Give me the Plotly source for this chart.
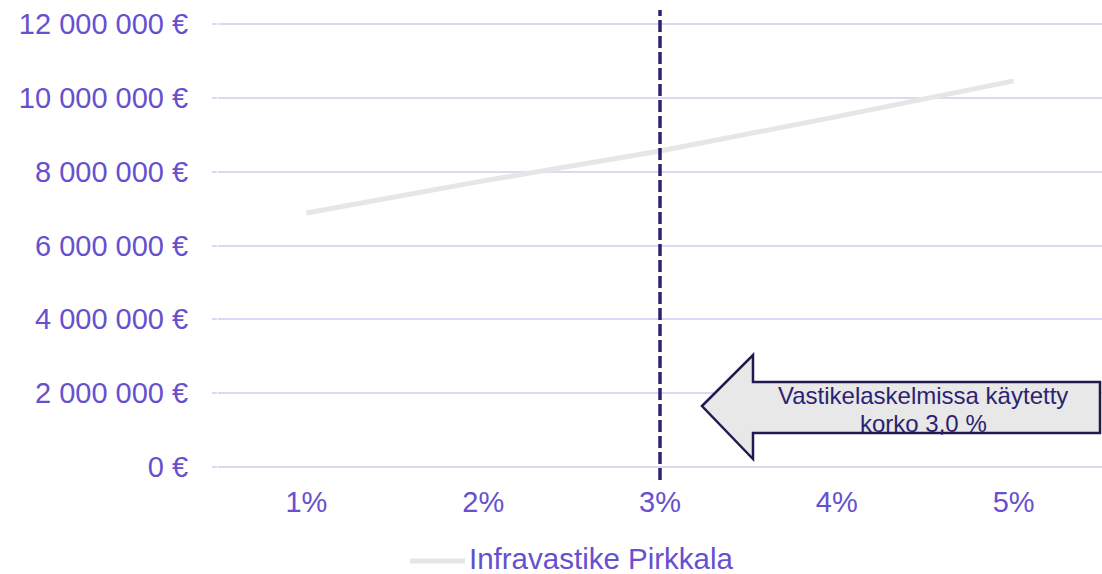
import plotly.graph_objects as go

# ---- data ----
categories = ["1%", "2%", "3%", "4%", "5%"]
infravastike = [6880000, 7750000, 8560000, 9490000, 10460000]
y_tickvals = [0, 2000000, 4000000, 6000000, 8000000, 10000000, 12000000]
y_ticktext = ["0 €", "2 000 000 €", "4 000 000 €", "6 000 000 €",
              "8 000 000 €", "10 000 000 €", "12 000 000 €"]
series_name = "Infravastike Pirkkala"
arrow_lines = ["Vastikelaskelmissa käytetty", "korko 3,0 %"]
used_rate = "3%"

# ---- layout geometry ----
W, H = 1102, 574
EDGE = 3  # px of padding so the edge gridlines are drawn
ML, MR, MT, MB = 218, 0, 24 - EDGE, 107 - EDGE
PW, PH = W - ML - MR, H - MT - MB
Y_MAX = y_tickvals[-1]
pad_val = (PH / (PH - 2 * EDGE) * Y_MAX - Y_MAX) / 2


def px(x):
    return (x - ML) / PW


def py(y):
    return (H - MB - y) / PH


FONT = "Liberation Sans, Arial, sans-serif"
TICK_COLOR = "#6750cf"
GRID = "#dcd7f6"
DARK = "#2c2370"

fig = go.Figure()
fig.add_trace(go.Scatter(
    x=categories, y=infravastike, mode="lines", name=series_name,
    line=dict(color="#e6e6e6", width=5), showlegend=False,
))

# dashed vertical line at used rate (category center in paper coords)
xi = categories.index(used_rate)
xc = (xi + 0.5) / len(categories)
fig.add_shape(type="line", xref="paper", yref="paper",
              x0=xc, x1=xc, y0=py(480), y1=py(10),
              line=dict(color=DARK, width=3.5, dash="12px,4px"))

# arrow callout
pts = [(702, 406), (753, 355), (753, 382), (1100, 382), (1100, 433),
       (753, 433), (753, 459)]
path = "M " + " L ".join(f"{px(a):.5f},{py(b):.5f}" for a, b in pts) + " Z"
fig.add_shape(type="path", xref="paper", yref="paper", path=path,
              fillcolor="#e8e8e8", line=dict(color="#221a4e", width=2.5))
for txt, yc in zip(arrow_lines, [395, 423]):
    fig.add_annotation(xref="paper", yref="paper", x=px(923), y=py(yc),
                       xanchor="center", yanchor="middle",
                       text=txt, showarrow=False, align="center",
                       font=dict(family=FONT, size=24, color=DARK))

# manual legend
fig.add_shape(type="line", xref="paper", yref="paper",
              x0=px(410), x1=px(465), y0=py(561), y1=py(561),
              line=dict(color="#e6e6e6", width=5))
fig.add_annotation(xref="paper", yref="paper", x=px(467), y=py(558),
                   xanchor="left", yanchor="middle", text=series_name,
                   showarrow=False,
                   font=dict(family=FONT, size=29.5, color=TICK_COLOR))

fig.update_layout(
    width=W, height=H,
    margin=dict(l=ML, r=MR, t=MT, b=MB, pad=0),
    plot_bgcolor="white", paper_bgcolor="white",
    font=dict(family=FONT, color=TICK_COLOR),
    showlegend=False,
)
fig.update_xaxes(type="category", showgrid=False, zeroline=False, showline=False,
                 ticks="", tickfont=dict(size=29, color=TICK_COLOR),
                 ticklabelstandoff=12, range=[-0.5, 4.5])
fig.update_yaxes(range=[-pad_val, Y_MAX + pad_val], tickvals=y_tickvals,
                 ticktext=y_ticktext,
                 showgrid=True, gridcolor=GRID, gridwidth=2, zeroline=False,
                 showline=False, ticks="outside", ticklen=5, tickcolor=GRID,
                 tickwidth=2, tickfont=dict(size=29, color=TICK_COLOR),
                 ticklabelstandoff=18)

fig.write_html("out.html", config={"displayModeBar": False},
               post_script="document.body.style.margin='0';document.body.style.overflow='hidden';")
